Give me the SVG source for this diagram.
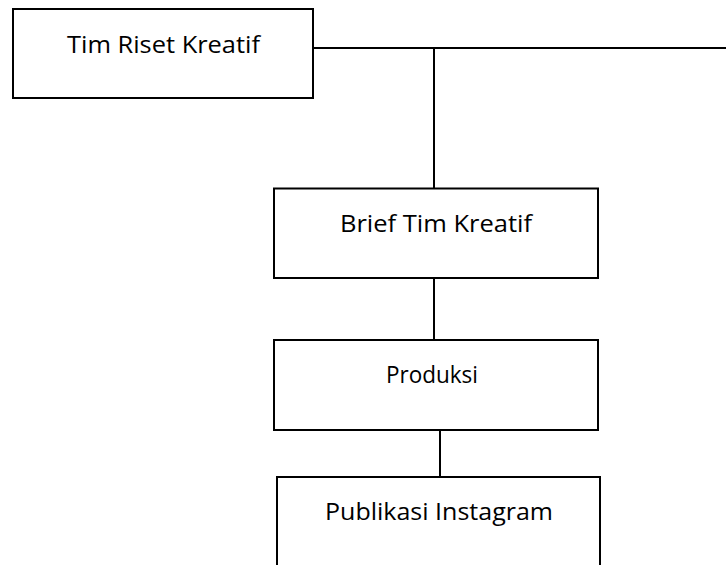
<svg xmlns="http://www.w3.org/2000/svg" width="726" height="565" viewBox="0 0 726 565">
<style>
.box{fill:#fff;stroke:#000;stroke-width:2}
.ln{fill:none;stroke:#000;stroke-width:2}
.t{font-family:"Open Sans","Liberation Sans",sans-serif;font-size:24.5px;fill:#000}
</style>
<rect width="726" height="565" fill="#fff"/>
<g id="connectors">
<path class="ln" d="M313,48 H726 M434,48 V188.5 M434,278 V340 M440,427 V477"/>
</g>
<g id="n1">
<rect class="box" x="13" y="9" width="300" height="89"/>
<text class="t" x="67" y="53" textLength="193" lengthAdjust="spacingAndGlyphs">Tim Riset Kreatif</text>
</g>
<g id="n2">
<rect class="box" x="274" y="188.5" width="324" height="89.5"/>
<text class="t" x="340" y="232" textLength="192" lengthAdjust="spacingAndGlyphs">Brief Tim Kreatif</text>
</g>
<g id="n3">
<rect class="box" x="274" y="340" width="324" height="90"/>
<text class="t" x="386" y="383" textLength="92" lengthAdjust="spacingAndGlyphs">Produksi</text>
</g>
<g id="n4">
<path class="box" d="M277,567 V477 H600 V567"/>
<text class="t" x="325" y="520" textLength="228" lengthAdjust="spacingAndGlyphs">Publikasi Instagram</text>
</g>
</svg>
